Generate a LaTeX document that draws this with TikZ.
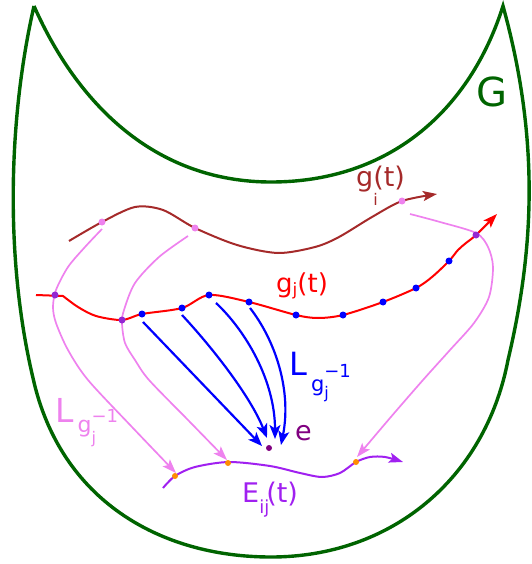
\documentclass[tikz,border=0pt]{standalone}
\usepackage{fontspec}
\setmainfont{DejaVu Sans}
\usetikzlibrary{arrows.meta}
\definecolor{gcol}{RGB}{0,100,0}
\definecolor{brownc}{RGB}{165,42,42}
\definecolor{pinkc}{RGB}{238,130,238}
\definecolor{purplec}{RGB}{160,32,240}
\definecolor{ecol}{RGB}{128,0,128}
\definecolor{vdot}{RGB}{148,40,210}
\definecolor{orangec}{RGB}{255,140,0}
\begin{document}
\begin{tikzpicture}[x=1pt,y=-1pt,
  pdot/.style={circle,inner sep=0pt,minimum size=7pt,fill=#1,draw=none},
  tip/.style={-{Stealth[length=14pt,width=10pt,inset=3pt]}},
  btip/.style={-{Stealth[length=14pt,width=11pt,inset=3.5pt]}},
  lbl/.style={anchor=base west,inner sep=0pt,text=#1},
  gline/.style={gcol,line width=3.4pt},
  bline/.style={blue,line width=2.2pt,btip},
  pline/.style={pinkc,line width=1.7pt,tip},
]
\useasboundingbox (0,0) rectangle (531,564);
% group G outline
\draw[gline] (34,6) .. controls (80,110) and (160,182) .. (271,182)
  .. controls (390,182) and (470,110) .. (503,6)
  .. controls (540,140) and (534,250) .. (508,360)
  .. controls (485,480) and (390,557) .. (271,557)
  .. controls (160,557) and (60,500) .. (33,378)
  .. controls (5,260) and (8,120) .. (34,6);
\node[lbl=gcol,font=\fontsize{40}{40}\selectfont] (G) at (476,107) {G};

% g_i(t)
\draw[brownc,line width=2pt,tip] plot[smooth] coordinates {(69,241) (102,222) (135,207) (163,210) (195,228) (237,245) (278,253) (315,247) (339,237) (372,217) (402,201) (437,194)};
% g_j(t)
\draw[red,line width=2pt,tip] (36,295) -- plot[smooth] coordinates {(63,296) (78,307) (96,316) (122,320) (142,314) (182,308) (209,295) (249,302) (296,315) (318,318) (343,315) (383,302) (416,288) (432,277) (449,261) (458,250) (466,243) (476,235) (497,214)};

% pink L_{g_j^{-1}} curves
\draw[pline] plot[smooth] coordinates {(102,229) (85,247) (68,267) (56,290) (53,307) (56,323) (68,350) (88,380) (132,427) (176,473)};
\draw[pline] plot[smooth] coordinates {(188,236) (159,257) (135,283) (124,310) (122,323) (125,343) (135,360) (149,380) (188,420) (227,460)};
\draw[pline] plot[smooth] coordinates {(410,214) (440,222) (476,233) (488,247) (493,267) (489,297) (474,323) (450,350) (423,380) (390,418) (357,457)};

% E_ij(t)
\draw[purplec,line width=2pt,tip] plot[smooth] coordinates {(163,488) (175,476) (195,467) (229,462) (270,466) (300,473) (322,477) (340,473) (356,462) (370,457) (385,457) (403,462)};

% blue arrows to e
\coordinate (bs1) at (143,322); \coordinate (be1) at (262,446);
\coordinate (bs2) at (182,315); \coordinate (be2) at (267,438);
\coordinate (bs3) at (216,303); \coordinate (be3) at (275,439);
\coordinate (bs4) at (250,308); \coordinate (be4) at (281,445);
\draw[bline] (bs1) -- (be1);
\draw[bline] (bs2) .. controls (210,345) and (250,395) .. (be2);
\draw[bline] (bs3) .. controls (245,330) and (275,380) .. (be3);
\draw[bline] (bs4) .. controls (275,340) and (292,390) .. (be4);

% dots
\node[pdot=pinkc] (p1) at (102,222) {};
\node[pdot=pinkc] (p2) at (195,228) {};
\node[pdot=pinkc] (p3) at (402,201) {};
\node[pdot=blue] (b1) at (142,314) {};
\node[pdot=blue] (b2) at (182,308) {};
\node[pdot=blue] (b3) at (209,295) {};
\node[pdot=blue] (b4) at (249,302) {};
\node[pdot=blue] (b5) at (296,315) {};
\node[pdot=blue] (b6) at (343,315) {};
\node[pdot=blue] (b7) at (383,302) {};
\node[pdot=blue] (b8) at (416,288) {};
\node[pdot=blue] (b9) at (449,261) {};
\node[pdot=vdot] (v1) at (55,295) {};
\node[pdot=vdot] (v2) at (122,320) {};
\node[pdot=vdot] (v3) at (476,235) {};
\node[pdot=orangec,minimum size=6pt] (o1) at (175,476) {};
\node[pdot=orangec,minimum size=6pt] (o2) at (228,463) {};
\node[pdot=orangec,minimum size=6pt] (o3) at (356,462) {};
\node[pdot=ecol,minimum size=6pt] (e) at (269,448) {};

% labels
\node[lbl=brownc,font=\fontsize{27}{27}\selectfont] (gi) at (356,186) {g\rlap{\raisebox{-19pt}{\fontsize{16}{16}\selectfont i}}(t)};
\node[lbl=red,font=\fontsize{26}{26}\selectfont] (gj) at (276,292) {g\raisebox{-3pt}{\fontsize{17}{17}\selectfont j}(t)};
\node[lbl=purplec,font=\fontsize{27}{27}\selectfont] (E) at (242,502) {E\rlap{\raisebox{-11pt}{\fontsize{18}{18}\selectfont ij}}\kern7pt(t)};
\node[lbl=ecol,font=\fontsize{27}{27}\selectfont] (elab) at (295,440) {e};
\node[lbl=blue,font=\fontsize{32}{32}\selectfont] (Lb) at (289,375) {L\kern4pt\raisebox{-16pt}{\fontsize{21}{21}\selectfont g}\rlap{\raisebox{-23pt}{\fontsize{16}{16}\selectfont j}}\raisebox{-2pt}{\fontsize{18}{18}\selectfont −1}};
\node[lbl=pinkc,font=\fontsize{33}{33}\selectfont] (Lp) at (55,422) {L\kern4pt\raisebox{-10pt}{\fontsize{22}{22}\selectfont g}\rlap{\raisebox{-21pt}{\fontsize{16}{16}\selectfont j}}{\fontsize{18}{18}\selectfont −1}};
\end{tikzpicture}
\end{document}
